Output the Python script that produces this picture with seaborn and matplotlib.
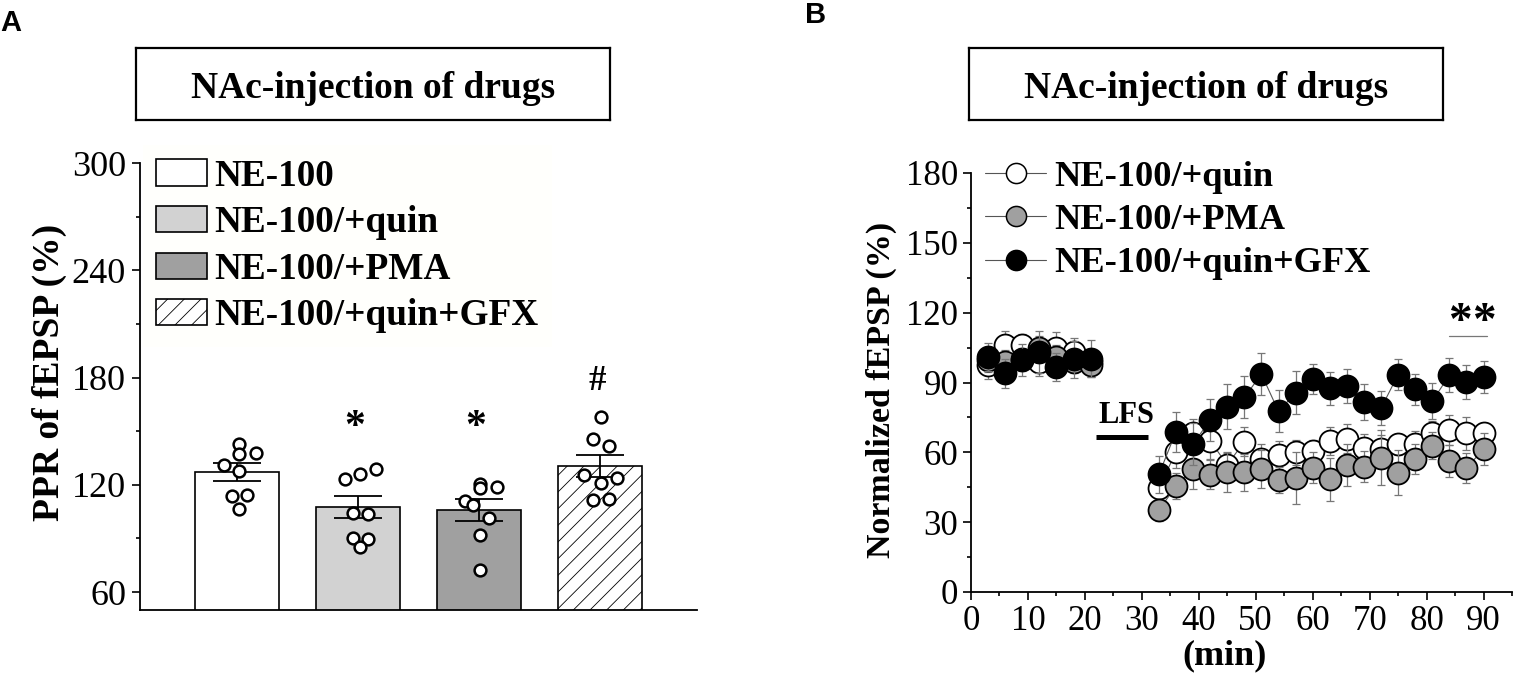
# Import necessary libraries
import numpy as np
import pandas as pd
import matplotlib
matplotlib.use('Agg')
import matplotlib.pyplot as plt
from matplotlib.patches import Patch
from matplotlib.lines import Line2D
from matplotlib.ticker import MultipleLocator
import seaborn as sns

# Panel A data
groups = ['NE-100', 'NE-100/+quin', 'NE-100/+PMA', 'NE-100/+quin+GFX']
bar_means = [127, 107.5, 106, 130.5]
bar_sems = [5, 6.2, 6, 6]
bar_colors = ['white', '#d2d2d2', '#a0a0a0', 'white']

pts_ne = [142.7, 137.5, 138, 131, 127.8, 114, 114.5, 106.5]
pts_quin = [129, 125.9, 123, 104.2, 103.8, 90.4, 89.7, 85.4]
pts_pma = [120.5, 118.5, 118.7, 111, 108.6, 101.7, 91.8, 72.6]
pts_gfx = [157.7, 145.7, 142, 125.5, 124, 121, 111.5, 112]

# horizontal scatter of the dots around each bar centre
off_ne = [0.02, 0.02, 0.16, -0.106, 0.02, -0.04, 0.087, 0.02]
off_quin = [0.15, 0.02, -0.11, -0.045, 0.083, -0.045, 0.083, 0.02]
off_pma = [0.01, 0.01, 0.145, -0.12, -0.05, 0.08, 0.01, 0.01]
off_gfx = [0.01, -0.06, 0.075, -0.13, 0.14, 0.01, -0.06, 0.075]

# Panel B data
t_pre = [3, 6, 9, 12, 15, 18, 21]
t_post = [33, 36, 39, 42, 45, 48, 51, 54, 57, 60, 63, 66, 69, 72, 75, 78, 81, 84, 87, 90]

quin_pre = [97.5, 106, 106, 98.8, 104.7, 103, 99]
quin_post = [44.5, 60.3, 68.2, 65, 54.6, 64.6, 57.1, 59, 60, 60.4, 64.7, 65.9, 61.7, 61.4, 63.4, 63.6, 68.1, 69.6, 68.1, 68.1]
quin_err_pre = [6, 6, 5, 6, 7, 6, 5]
quin_err_post = [7, 7, 6, 8, 5, 6.2, 6.3, 6, 5.4, 5, 6, 6.2, 6, 6, 4.6, 5.7, 5.3, 6.6, 6.9, 4.7]

pma_pre = [99.7, 99, 99.9, 105, 101, 99, 97.5]
pma_post = [35.2, 45.5, 52.7, 50.3, 51.4, 51.5, 52.8, 48.1, 48.8, 53.4, 48.4, 54.7, 53.8, 57.7, 51.3, 57, 62.9, 56.4, 53.3, 61.3]
pma_err_pre = [5, 5, 5, 5, 5, 5, 5]
pma_err_post = [4.5, 5.6, 8.6, 6.2, 8.6, 7.9, 8, 5.7, 11.2, 6.6, 9.3, 9, 6.7, 11.9, 9.6, 6.4, 5.9, 6.9, 6.6, 6.9]

gfx_pre = [101, 94, 99.7, 103.2, 96.5, 100, 100.3]
gfx_post = [50.5, 68.9, 63.6, 73.9, 79.6, 83.6, 93.6, 77.6, 85.6, 91.5, 87.5, 88.3, 81.6, 78.9, 93.4, 87, 81.9, 93.2, 90.3, 92.3]
gfx_err_pre = [6, 6.3, 7, 9, 6, 8, 7.9]
gfx_err_post = [8, 8.6, 9, 9, 9.6, 9, 8.9, 9, 9.2, 6.3, 7.2, 7.3, 7.9, 7.3, 6.6, 6.6, 7.7, 7.2, 7.4, 6.9]

W, H = 1513, 673
serif = 'Liberation Serif'

sns.set_style('ticks')
plt.rcParams['font.family'] = serif
plt.rcParams['hatch.linewidth'] = 0.6
plt.rcParams['text.color'] = 'black'
plt.rcParams['axes.labelcolor'] = 'black'
plt.rcParams['axes.edgecolor'] = 'black'
plt.rcParams['xtick.color'] = 'black'
plt.rcParams['ytick.color'] = 'black'

fig = plt.figure(figsize=(W / 100, H / 100), dpi=100)


def px_axes(x0, y0, x1, y1):
  return fig.add_axes([x0 / W, 1 - y1 / H, (x1 - x0) / W, (y1 - y0) / H])


# Title boxes above the panels
for x0, x1 in [(136, 610), (969, 1443)]:
  box = px_axes(x0, 48, x1, 120)
  box.set_xticks([])
  box.set_yticks([])
  for s in box.spines.values():
    s.set_linewidth(1.6)
  box.text(0.5, 0.44, 'NAc-injection of drugs', transform=box.transAxes, ha='center',
           va='center', fontsize=27, fontweight='bold')

fig.text(0 / W, 1 - 31 / H, 'A', family='Liberation Sans', fontweight='bold', fontsize=21)
fig.text(805 / W, 1 - 23 / H, 'B', family='Liberation Sans', fontweight='bold', fontsize=21)

# Panel A: bars, error bars and individual dots
ax = px_axes(140, 163, 697, 610)
df_bar = pd.DataFrame({'group': groups, 'mean': bar_means})
sns.barplot(data=df_bar, x='group', y='mean', hue='group', palette=bar_colors, legend=False,
            width=0.69, edgecolor='black', linewidth=1.2, errorbar=None, ax=ax)
ax.patches[3].set_hatch('//')
ax.errorbar(range(4), bar_means, yerr=bar_sems, fmt='none', ecolor='black', elinewidth=1.3,
            capsize=17, capthick=1.3, zorder=3)

all_pts = [pts_ne, pts_quin, pts_pma, pts_gfx]
all_off = [off_ne, off_quin, off_pma, off_gfx]
df_pts = pd.concat([pd.DataFrame({'x': i + np.array(o), 'y': p})
                    for i, (p, o) in enumerate(zip(all_pts, all_off))])
sns.scatterplot(data=df_pts, x='x', y='y', s=72, color='white', edgecolor='black', linewidth=1.8,
                zorder=4, ax=ax)

ax.set_xlim(-0.8, 3.8)
ax.set_ylim(50, 300)
ax.set_xlabel('')
ax.set_xticks([])
ax.set_yticks([60, 120, 180, 240, 300])
ax.yaxis.set_minor_locator(MultipleLocator(30))
ax.tick_params(axis='y', which='major', length=6, width=1.2, labelsize=26, pad=4)
ax.tick_params(axis='y', which='minor', length=3, width=1.2)
ax.set_ylabel('')
fig.text(49 / W, 1 - 372 / H, 'PPR of fEPSP (%)', rotation=90, ha='center', va='center',
         fontsize=27, fontweight='bold')
sns.despine(ax=ax)
for s in ax.spines.values():
  s.set_linewidth(1.3)

ax.text(0.97, 152, '*', ha='center', va='center', fontsize=30, fontweight='bold')
ax.text(1.97, 152, '*', ha='center', va='center', fontsize=30, fontweight='bold')
ax.text(2.975, 178, '#', ha='center', va='center', fontsize=25, fontweight='bold')

handles = [Patch(facecolor=c, edgecolor='black', linewidth=1.2) for c in bar_colors]
handles[3].set_hatch('//')
ax.legend(handles, groups, loc='upper left', bbox_to_anchor=(3 / 557, 1.04), frameon=True,
          facecolor='#fffffc', edgecolor='none', framealpha=1, fancybox=False,
          prop={'size': 26.8, 'weight': 'bold', 'family': serif}, handlelength=1.37,
          handleheight=0.7, handletextpad=0.19, labelspacing=0.31, borderpad=0.36,
          borderaxespad=0)

# Panel B: time course, pre and post LFS drawn as separate pieces
bx = px_axes(971, 173, 1512, 592)
series = [('NE-100/+quin', quin_pre, quin_post, quin_err_pre, quin_err_post, 'white'),
          ('NE-100/+PMA', pma_pre, pma_post, pma_err_pre, pma_err_post, '#a0a0a0'),
          ('NE-100/+quin+GFX', gfx_pre, gfx_post, gfx_err_pre, gfx_err_post, 'black')]

for k, (name, pre, post, e_pre, e_post, col) in enumerate(series):
  for t, y, e in [(t_pre, pre, e_pre), (t_post, post, e_post)]:
    bx.errorbar(t, y, yerr=e, fmt='none', ecolor='#777777', elinewidth=0.9, capsize=3,
                capthick=0.9, zorder=2 + k)
    sns.lineplot(x=t, y=y, color='#555555', linewidth=0.8, zorder=2 + k, ax=bx)
    sns.scatterplot(x=t, y=y, s=250, color=col, edgecolor='black', linewidth=1.3,
                    zorder=2.5 + k, ax=bx)

bx.set_xlim(0, 95)
bx.set_ylim(0, 180)
bx.set_xticks(range(0, 100, 10))
bx.set_yticks(range(0, 200, 30))
bx.xaxis.set_minor_locator(MultipleLocator(5))
bx.yaxis.set_minor_locator(MultipleLocator(15))
bx.tick_params(which='major', length=6, width=1.2, labelsize=25, pad=3)
bx.tick_params(which='minor', length=3, width=1.2)
sns.despine(ax=bx)
for s in bx.spines.values():
  s.set_linewidth(1.3)
bx.set_xlabel('')
bx.set_ylabel('')
fig.text(1225 / W, 1 - 656 / H, '(min)', ha='center', va='center', fontsize=26, fontweight='bold')
fig.text(881 / W, 1 - 390 / H, 'Normalized fEPSP (%)', rotation=90, ha='center', va='center',
         fontsize=24.5, fontweight='bold')

bx.text(27.3, 76, 'LFS', ha='center', va='center', fontsize=22, fontweight='bold')
bx.plot([22, 31], [66.6, 66.6], color='black', lw=3.6, solid_capstyle='butt')
bx.text(85.8, 115.5, '*', ha='center', va='center', fontsize=34, fontweight='bold')
bx.text(90, 115.5, '*', ha='center', va='center', fontsize=34, fontweight='bold')
bx.plot([84, 90.6], [110, 110], color='#777777', lw=0.9)

handles_b = [Line2D([], [], color='#555555', lw=0.8, marker='o', markersize=14.5,
                    markerfacecolor=c, markeredgecolor='black', markeredgewidth=1.1)
             for c in ['white', '#a0a0a0', 'black']]
bx.legend(handles_b, [s[0] for s in series], loc='upper left', bbox_to_anchor=(14 / 541, 1.03),
          frameon=False, prop={'size': 26.2, 'weight': 'bold', 'family': serif}, handlelength=1.68,
          handletextpad=0.22, labelspacing=0.27, borderpad=0, borderaxespad=0)

fig.savefig('out.png', dpi=100)
